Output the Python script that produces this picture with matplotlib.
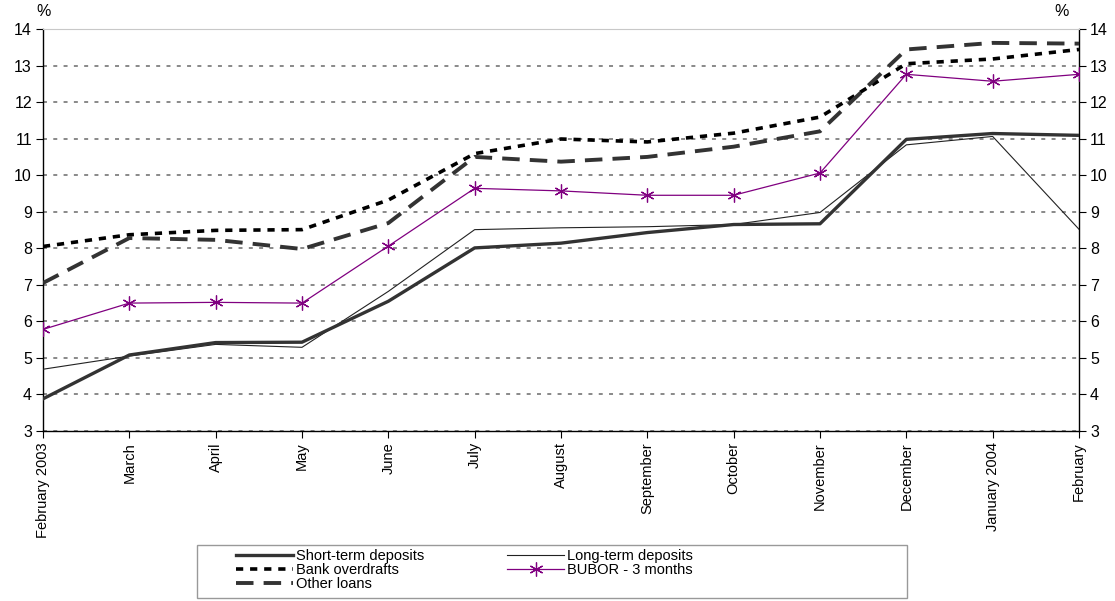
import numpy as np
import matplotlib.pyplot as plt
from matplotlib.patches import Rectangle

plt.rcParams["font.family"] = ["Liberation Sans", "DejaVu Sans"]

months = ["February 2003", "March", "April", "May", "June", "July", "August",
          "September", "October", "November", "December", "January 2004", "February"]
short_term = [3.88, 5.08, 5.42, 5.43, 6.55, 8.01, 8.14, 8.43, 8.65, 8.67, 10.98, 11.14, 11.09]
long_term = [4.69, 5.05, 5.37, 5.29, 6.82, 8.51, 8.56, 8.59, 8.65, 8.98, 10.83, 11.06, 8.52]
overdrafts = [8.05, 8.37, 8.49, 8.51, 9.32, 10.59, 10.99, 10.91, 11.15, 11.59, 13.05, 13.18, 13.44]
other_loans = [7.05, 8.28, 8.23, 7.98, 8.69, 10.50, 10.37, 10.50, 10.78, 11.20, 13.44, 13.62, 13.60]
bubor = [5.78, 6.50, 6.52, 6.50, 8.06, 9.64, 9.57, 9.45, 9.45, 10.06, 12.76, 12.57, 12.76]

fig = plt.figure(figsize=(11.15, 6.01), dpi=100)
ax = fig.add_axes([43/1115, 1-431/601, (1079-43)/1115, (431-29)/601])
x = np.arange(len(months))

ax.plot(x, overdrafts, color='black', lw=2.6, dashes=(2.0, 1.9), label='Bank overdrafts', zorder=3)
ax.plot(x, other_loans, color='#333333', lw=2.8, dashes=(4.5, 2.6), label='Other loans', zorder=3)
ax.plot(x, long_term, color='#222222', lw=0.8, label='Long-term deposits', zorder=3)
ax.plot(x, short_term, color='#333333', lw=2.4, label='Short-term deposits', zorder=4)
ax.plot(x, bubor, color='#800080', lw=0.9, marker=(6, 2, 0), markersize=10,
        markeredgewidth=0.9, label='BUBOR - 3 months', zorder=4)

ax.set_xlim(0, len(months)-1)
ax.set_ylim(3, 14)
ax.set_yticks(range(3, 15))
ax.set_xticks(x)
ax.set_xticklabels(months, rotation=90, fontsize=10.5)
ax.tick_params(axis='y', left=True, right=True, labelleft=True, labelright=True,
               direction='out', length=5, labelsize=11.5, pad=3)
ax.tick_params(axis='x', direction='out', length=5, pad=3)
ax.grid(axis='y', color='#808080', lw=1.3, dashes=(2.2, 3.5))
ax.spines['top'].set_color('#c8c8c8')
for s in ['left', 'right', 'bottom']:
    ax.spines[s].set_linewidth(1.0)

fig.text(44/1115, 1-12/601, '%', ha='center', va='center', fontsize=11.5)
fig.text(1062/1115, 1-12/601, '%', ha='center', va='center', fontsize=11.5)

handles, labels = ax.get_legend_handles_labels()
order = ['Short-term deposits', 'Bank overdrafts', 'Other loans', 'Long-term deposits', 'BUBOR - 3 months']
h = [handles[labels.index(o)] for o in order]
fig.legend(h, order, ncol=2, loc='upper left', bbox_to_anchor=(236/1115, 1-549/601),
           frameon=False, fontsize=10.5, labelspacing=0.0, handlelength=3.9,
           handletextpad=0.2, columnspacing=5.7, borderpad=0, borderaxespad=0)
fig.patches.append(Rectangle((197/1115, 3/601), 710/1115, 53/601,
                             transform=fig.transFigure, fill=False, ec='#999999', lw=1))

fig.savefig('out.png', dpi=100)
